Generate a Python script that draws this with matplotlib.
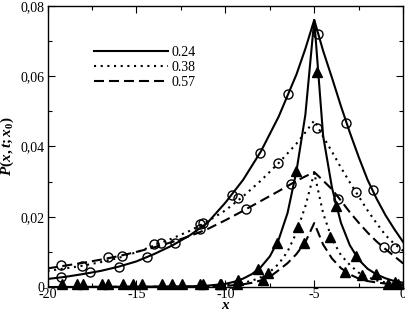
import numpy as np
import matplotlib
matplotlib.use("Agg")
import matplotlib.pyplot as plt
from matplotlib.ticker import MultipleLocator, FuncFormatter

plt.rcParams['font.family'] = 'Liberation Serif'
plt.rcParams['axes.unicode_minus'] = False
plt.rcParams['mathtext.fontset'] = 'custom'
plt.rcParams['mathtext.it'] = 'Liberation Serif:italic:bold'
plt.rcParams['mathtext.rm'] = 'Liberation Serif:bold'

# wide curves (open circles)
x_wide = [-20, -19, -18, -17, -16, -15, -14, -13, -12, -11, -10, -9, -8, -7, -6, -5.5,
          -5, -4.5, -4, -3.5, -3, -2.5, -2, -1.5, -1, -0.5, 0]
p_024 = [0.0023, 0.0029, 0.0037, 0.0046, 0.0058, 0.0073, 0.0094, 0.0118, 0.0147, 0.0183,
         0.0240, 0.0305, 0.0386, 0.0485, 0.0605, 0.0678, 0.0760, 0.0672, 0.0595, 0.0515,
         0.0440, 0.0370, 0.0305, 0.0252, 0.0205, 0.0165, 0.0128]
p_038 = [0.0046, 0.0053, 0.0061, 0.0071, 0.0083, 0.0099, 0.0118, 0.0138, 0.0160, 0.0187,
         0.0218, 0.0258, 0.0303, 0.0353, 0.0408, 0.0440, 0.0474, 0.0428, 0.0385, 0.0340,
         0.0298, 0.0258, 0.0218, 0.0182, 0.0148, 0.0123, 0.0103]
p_057 = [0.0053, 0.0061, 0.0069, 0.0078, 0.0088, 0.0100, 0.0113, 0.0128, 0.0145, 0.0165,
         0.0190, 0.0217, 0.0245, 0.0273, 0.0302, 0.0315, 0.0327, 0.0303, 0.0278, 0.0246,
         0.0213, 0.0183, 0.0155, 0.0130, 0.0108, 0.0088, 0.0067]

# narrow curves (filled triangles)
x_n1 = [-20, -15, -12, -11, -10, -9.5, -9, -8.5, -8, -7.5, -7, -6.5, -6, -5.5, -5,
        -4.5, -4, -3.5, -3, -2.5, -2, -1.5, -1, -0.5, 0]
n_024 = [0, 0.0001, 0.0002, 0.0004, 0.0009, 0.0015, 0.0024, 0.0037, 0.0057, 0.0087, 0.0135,
         0.0211, 0.0330, 0.0490, 0.0760, 0.0430, 0.0282, 0.0183, 0.0119, 0.0078, 0.0052,
         0.0036, 0.0025, 0.0017, 0.0012]
x_n = [-20, -12, -11, -10, -9, -8.5, -8, -7.5, -7, -6.5, -6, -5.5, -5,
       -4.5, -4, -3.5, -3, -2.5, -2, -1.5, -1, -0.5, 0]
n_038 = [0, 0.0001, 0.0002, 0.0005, 0.0012, 0.0018, 0.0028, 0.0043, 0.0066, 0.0101, 0.0155,
         0.0230, 0.0325, 0.0210, 0.0136, 0.0091, 0.0063, 0.0041, 0.0028, 0.0019, 0.0013,
         0.0009, 0.0006]
n_057 = [0, 0.0001, 0.0001, 0.0003, 0.0008, 0.0012, 0.0019, 0.0029, 0.0048, 0.0068, 0.0094,
         0.0128, 0.0182, 0.0121, 0.0081, 0.0054, 0.0036, 0.0024, 0.0017, 0.0013, 0.0010,
         0.0008, 0.0006]

# simulation points
c1_x = [-19.22, -17.63, -16.0, -14.41, -12.82, -11.42, -9.65, -8.06, -6.5, -4.8, -3.23, -1.7]
c1_y = [0.0028, 0.0042, 0.0058, 0.0085, 0.0124, 0.0164, 0.0262, 0.0381, 0.055, 0.072, 0.0466, 0.0276]
c2_x = [-18.06, -15.8, -14.03, -11.28, -9.28, -7.03, -4.86, -2.67, -0.48]
c2_y = [0.0061, 0.0088, 0.0122, 0.0181, 0.0253, 0.0352, 0.0452, 0.027, 0.011]
c3_x = [-19.22, -16.6, -13.6, -11.4, -8.85, -6.28, -3.66, -1.1]
c3_y = [0.0063, 0.0086, 0.0126, 0.0179, 0.0221, 0.0293, 0.025, 0.0113]

t1_x = [-19.2, -16.96, -14.71, -12.46, -10.31, -9.28, -8.16, -7.09, -6.0, -4.84, -3.79, -2.67, -1.5, -0.48]
t1_y = [0.001, 0.001, 0.001, 0.001, 0.001, 0.002, 0.005, 0.0124, 0.0331, 0.0613, 0.0231, 0.0088, 0.0036, 0.0015]
t2_x = [-18.35, -15.74, -13.58, -11.43, -9.37, -7.6, -5.9, -4.09, -2.29, -0.3]
t2_y = [0.001, 0.001, 0.001, 0.001, 0.001, 0.0039, 0.017, 0.0142, 0.0034, 0.001]
t3_x = [-17.99, -16.58, -15.18, -13.02, -11.24, -10.22, -7.88, -5.57, -3.25, -0.85]
t3_y = [0.001, 0.001, 0.001, 0.001, 0.001, 0.001, 0.002, 0.0124, 0.0044, 0.001]

fig = plt.figure(figsize=(4.06, 3.11), dpi=100)
ax = fig.add_axes([0.117, 0.077, 0.876, 0.904])

styles = {'solid': '-', 'dot': (0, (1, 2.2)), 'dash': (0, (4.8, 2.4))}
lw = 1.5

ax.plot(x_wide, p_024, color='black', lw=lw, ls=styles['solid'], label='0.24')
ax.plot(x_wide, p_038, color='black', lw=lw, ls=styles['dot'], label='0.38')
ax.plot(x_wide, p_057, color='black', lw=lw, ls=styles['dash'], label='0.57')
ax.plot(x_n1, n_024, color='black', lw=lw, ls=styles['solid'])
ax.plot(x_n, n_038, color='black', lw=lw, ls=styles['dot'])
ax.plot(x_n, n_057, color='black', lw=lw, ls=styles['dash'])

for cx, cy in [(c1_x, c1_y), (c2_x, c2_y), (c3_x, c3_y)]:
    ax.plot(cx, cy, 'o', ms=6.5, mfc='none', mec='black', mew=1.0, clip_on=False)
for tx, ty in [(t1_x, t1_y), (t2_x, t2_y), (t3_x, t3_y)]:
    ax.plot(tx, ty, '^', ms=7, color='black', clip_on=False)

ax.set_xlim(-20, 0)
ax.set_ylim(0, 0.08)
ax.xaxis.set_major_locator(MultipleLocator(5))
ax.xaxis.set_minor_locator(MultipleLocator(2.5))
ax.yaxis.set_major_locator(MultipleLocator(0.02))
ax.yaxis.set_minor_locator(MultipleLocator(0.01))
ax.yaxis.set_major_formatter(FuncFormatter(
    lambda v, p: '0' if abs(v) < 1e-9 else f'{v:.2f}'.replace('.', ',')))
ax.xaxis.set_major_formatter(FuncFormatter(lambda v, p: f'{v:g}'))
ax.tick_params(which='both', direction='in', top=True, right=True, labelsize=10, width=0.8)
ax.tick_params(which='major', length=5, pad=2)
ax.tick_params(axis='x', which='major', pad=0.5)
ax.tick_params(which='minor', length=3)
for s in ax.spines.values():
    s.set_linewidth(1.0)

ax.set_xlabel('$x$', fontsize=11, labelpad=-1.5)
ax.set_ylabel('$P(x,t;x_0)$', fontsize=11, labelpad=3)

leg = ax.legend(loc='upper left', bbox_to_anchor=(0.115, 0.877), frameon=False,
                handlelength=5.3, handletextpad=0.3, labelspacing=0.15, fontsize=10,
                borderaxespad=0)

fig.savefig('out.png', dpi=100)
